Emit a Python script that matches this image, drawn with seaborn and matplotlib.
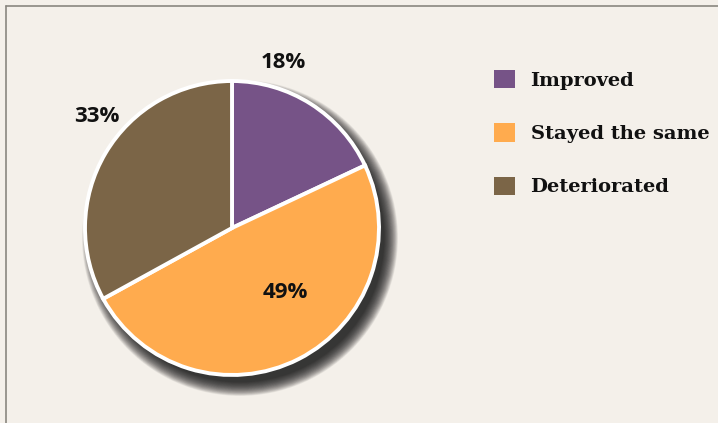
import matplotlib
matplotlib.use("Agg")
import matplotlib.pyplot as plt
import seaborn as sns
import numpy as np
from matplotlib.patches import Circle
from matplotlib.lines import Line2D

categories = ["Improved", "Stayed the same", "Deteriorated"]
values = [18, 49, 33]
pct_labels = ["18%", "49%", "33%"]
colors = ["#765387", "#FFAB4E", "#7B6547"]

sns.set_theme(style="white")
plt.rcParams['font.family'] = ['DejaVu Sans']

W, H = 718, 423
BG = "#F4F0EA"
fig = plt.figure(figsize=(W / 100, H / 100), dpi=100, facecolor=BG)
ax = fig.add_axes([0, 0, 1, 1])
ax.set_facecolor(BG)

# pixel geometry -> data units (1 unit = pie radius)
cx, cy, R = 232, 228, 147
def px(x, y):
    return ((x - cx) / R, (cy - y) / R)

# soft drop shadow (offset down-right)
sx, sy = px(cx + 8, cy + 10)
n = 50
for i in range(n):
    r = 0.975 + 0.1 * (1 - i / n)
    ax.add_patch(Circle((sx, sy), r, facecolor="#1E1E1E", edgecolor="none",
                        alpha=0.035, zorder=1))

palette = sns.color_palette(colors)
wedges, _ = ax.pie(values, colors=palette, startangle=90, counterclock=False,
                   radius=1.0,
                   wedgeprops=dict(edgecolor="white", linewidth=2.8, zorder=2))
for w in wedges:
    w.set_zorder(2)

label_pos = [(283, 62), (285, 292), (97, 116)]
for lab, (x, y) in zip(pct_labels, label_pos):
    X, Y = px(x, y)
    ax.text(X, Y, lab, ha="center", va="center", fontsize=16,
            fontweight="bold", family=["Open Sans", "DejaVu Sans"],
            color="#111111", zorder=5)

x0, y0 = px(0, H)
x1, y1 = px(W, 0)
ax.set_xlim(x0, x1)
ax.set_ylim(y0, y1)
ax.set_aspect("auto")
ax.axis("off")

leg = fig.legend(wedges, categories, loc="upper left",
                 bbox_to_anchor=(494 / W, 1 - 70 / H),
                 frameon=False,
                 prop=dict(family=["DejaVu Serif"], weight="bold", size=14),
                 handlelength=1.08, handleheight=1.08, handletextpad=0.8,
                 labelspacing=1.72, borderpad=0, borderaxespad=0)
for h in leg.legend_handles:
    h.set_edgecolor("none")
    h.set_linewidth(0)
for t in leg.get_texts():
    t.set_color("#111111")

# frame lines (left and top)
fig.add_artist(Line2D([5.5 / W, 5.5 / W], [0, 1 - 6 / H], transform=fig.transFigure,
                      color="#8A8780", linewidth=1.2))
fig.add_artist(Line2D([5.5 / W, 1], [1 - 6 / H, 1 - 6 / H], transform=fig.transFigure,
                      color="#8A8780", linewidth=1.2))

fig.savefig("out.png", dpi=100, facecolor=BG)
